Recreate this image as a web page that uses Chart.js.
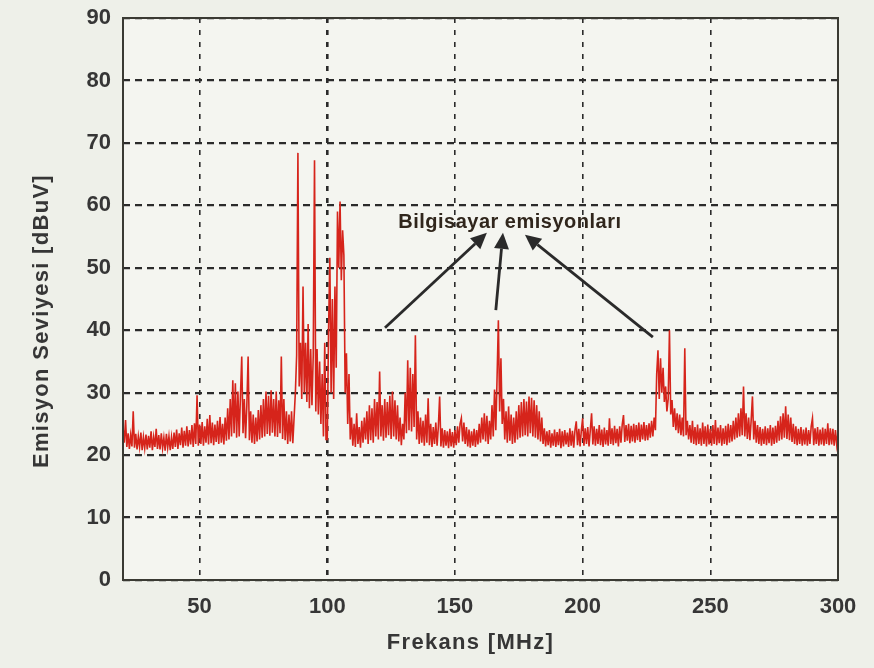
<!DOCTYPE html>
<html>
<head>
<meta charset="utf-8">
<script src="https://cdn.jsdelivr.net/npm/chart.js@4"></script>
<style>
  html, body { margin: 0; padding: 0; background: #eef0e9; }
  #wrap { width: 874px; height: 668px; position: relative; }
</style>
</head>
<body>
<div id="wrap"><canvas id="c" width="874" height="668"></canvas></div>
<script>
// ---- data ----
const startFreq = 20;      // MHz, first sample
const freqStep = 0.5;      // MHz between samples
const levels = [
  // 20 - 29.5
  24.5,22,25.6,21.3,23.5,21,23.2,21.4,27,21.2,23.4,20.9,23,21.3,23.6,20.8,22.9,21.1,23.3,20.9,
  // 30 - 39.5
  23.1,21.2,23.8,20.8,22.9,21.3,24.2,21,23.2,20.9,23.5,21.1,22.8,20.7,23.4,21.2,23,20.8,22.9,21,
  // 40 - 49.5
  23.6,21.3,24.1,21,23.5,21.6,24.4,21.2,23.9,21.5,24.6,21.4,24,21.7,24.8,21.3,25.1,21.8,29.6,21.5,
  // 50 - 59.5
  24.9,21.8,25.3,21.5,24.6,22,25.8,21.7,26.4,21.9,25.2,21.6,24.9,22.1,25.5,21.8,26.1,22,25,21.7,
  // 60 - 69.5
  26,22.3,27.5,22.5,29,23,32,23.5,31.5,22.8,30.2,23,29.5,35.8,23.5,29,22.7,28,35.8,22.4,
  // 70 - 79.5
  27,22,26.5,21.8,26,22.2,27.2,22.5,28,22.8,29,23,30.2,23.4,29.5,23.1,30.4,23.6,29,23,
  // 80 - 89.5
  30.2,22.9,28.8,23.5,35.8,22.6,29,22.4,27,21.8,26.5,22.2,27,21.9,26,30,36,68.4,31,38,
  // 90 - 99.5
  29,47,30,38,28.5,41,27.5,37,28,36,67.2,27,37,26.5,35,25,33,23,38,22.5,
  // 100 - 109.5
  22.5,40,51.6,30,45,29,47,34,59,50,60.6,48,56,52,30,36.3,25,33,22.5,26,
  // 110 - 119.5
  21.5,25,21.3,26.7,21.8,24.5,21.2,25.5,22,26,22.5,27,21.8,28,22.4,27.5,22,29,23,28.5,
  // 120 - 129.5
  22.5,33.4,23,28,22.3,29,22.8,28.5,23.2,29.5,22.6,30.2,23,28.8,22.5,28,22.2,26,21.6,25,
  // 130 - 139.5
  22.5,30,23.5,35.2,24,34,23.8,33,24.5,39.2,22.5,27,21.8,26,22,25.5,21.5,26.5,22,29.1,
  // 140 - 149.5
  21.6,25,21.3,24.5,21.8,25.2,21.5,24.6,29.4,21.4,24.3,21.2,24,21.5,23.8,21.1,24.2,21.4,23.7,21.2,
  // 150 - 159.5
  24,21.6,24.6,22,25,25.9,22.2,25.2,21.8,24.5,21.4,24.1,21.2,23.8,21.5,24.2,21.3,24,21.7,25,
  // 160 - 169.5
  22,26,22.5,26.7,22.2,26.3,21.8,25.5,22.5,28,23,30.5,24,32.6,41.6,27,35.5,25,29,22.5,
  // 170 - 179.5
  27,22,27.8,22.3,26.5,21.8,26,22,27,22.5,28,22.8,28.5,23,29,23.2,28.6,23,29.4,23.5,
  // 180 - 189.5
  29.2,23,28.8,22.8,28,22.5,27,22.2,26,21.8,24.3,21.4,23.8,21.6,24,21.2,23.5,21.5,24.1,21.3,
  // 190 - 199.5
  23.7,21.6,24.2,21.1,23.8,21.4,24,21.7,23.6,21.3,24.3,21.5,23.9,21.2,24,25.4,21.6,24.2,21.4,24,
  // 200 - 209.5
  25.9,21.5,24.3,21.8,24.5,21.4,24,26.7,21.7,24.6,21.5,24.2,21.8,24.8,21.6,24.1,21.3,24.4,21.7,24,
  // 210 - 219.5
  21.5,25.9,21.8,24.3,21.6,24.7,21.9,24.2,21.4,24.6,22,24.9,26.4,22.1,24.8,22.3,25,21.9,24.7,22.2,
  // 220 - 229.5
  25,22,24.8,22.4,25.2,22.1,24.9,22.5,25.3,22.3,24.8,22.4,25.1,22.8,25.5,23,26,24,33,36.8,
  // 230 - 239.5
  29,35.5,30,34,28.5,31,27,29,40,26.5,28.8,24.5,27.5,24,26.7,23.5,26.5,23.2,26,23,
  // 240 - 249.5
  37.1,23.2,25.5,22.5,24.8,22,25.5,21.8,24.5,21.6,24.9,21.8,24.3,21.5,25.2,21.8,24.6,21.4,24.9,21.7,
  // 250 - 259.5
  24.2,21.5,24.8,21.8,25.6,21.6,24.4,21.9,24.8,21.5,24.3,21.8,24.7,21.6,25,22,24.8,22.2,25.5,22.5,
  // 260 - 269.5
  26,22.8,26.7,23,27.5,23.2,31,23,26.7,22.6,26,22.4,25.6,29.4,22.5,25.5,22,24.8,21.8,24.5,
  // 270 - 279.5
  21.5,24.2,21.8,24.6,21.6,24.3,21.9,24.8,21.5,24.4,21.8,24.7,22,25.5,22.3,26.2,22.5,26.7,22.8,27.8,
  // 280 - 289.5
  22.6,26.5,22.4,26,22.1,25,21.8,24.6,21.6,24.2,21.8,24.5,21.5,24.1,21.7,24.4,21.5,24,21.8,24.6,
  // 290 - 300
  25.9,21.6,24.3,21.8,24.5,21.5,24.1,21.7,24.4,21.5,24.2,21.8,25.1,21.6,24.3,21.7,24.2,21.5,24,21.7,
  23.5
];

const xTickValues = [50, 100, 150, 200, 250, 300];
const yTickValues = [0, 10, 20, 30, 40, 50, 60, 70, 80, 90];
const xTitle = 'Frekans [MHz]';
const yTitle = 'Emisyon Seviyesi [dBuV]';

const annotationText = 'Bilgisayar emisyonları';
const annotationAt = [171.5, 57.3];             // [MHz, dBuV]
const arrowFromX = [122.6, 166.0, 227.5];
const arrowFromY = [40.4, 43.2, 38.9];
const arrowToX = [162.5, 168.8, 177.4];
const arrowToY = [55.6, 55.6, 55.3];

// ---- build ----
const points = levels.map((v, i) => ({ x: startFreq + i * freqStep, y: v }));
const FONT = '"Liberation Sans", Arial, Helvetica, sans-serif';
const INK = '#363636';

const framePlugin = {
  id: 'frame',
  beforeDraw(chart) {
    const { ctx, chartArea: a } = chart;
    ctx.save();
    ctx.fillStyle = '#f4f5f0';
    ctx.fillRect(a.left, a.top, a.right - a.left, a.bottom - a.top);
    ctx.restore();
  },
  afterDraw(chart) {
    const { ctx, chartArea: a, scales } = chart;
    const xs = scales.x, ys = scales.y;
    ctx.save();
    // frame
    ctx.strokeStyle = '#3a3a33';
    ctx.lineWidth = 2;
    ctx.strokeRect(a.left, a.top, a.right - a.left, a.bottom - a.top);

    // arrows
    ctx.strokeStyle = '#2a2a2a';
    ctx.fillStyle = '#2a2a2a';
    for (let i = 0; i < arrowFromX.length; i++) {
      const x1 = xs.getPixelForValue(arrowFromX[i]);
      const y1 = ys.getPixelForValue(arrowFromY[i]);
      const x2 = xs.getPixelForValue(arrowToX[i]);
      const y2 = ys.getPixelForValue(arrowToY[i]);
      const ang = Math.atan2(y2 - y1, x2 - x1);
      const headLen = 16, headW = 7.5;
      const bx = x2 - headLen * Math.cos(ang), by = y2 - headLen * Math.sin(ang);
      ctx.lineWidth = 2.8;
      ctx.beginPath();
      ctx.moveTo(x1, y1);
      ctx.lineTo(bx, by);
      ctx.stroke();
      ctx.beginPath();
      ctx.moveTo(x2, y2);
      ctx.lineTo(bx + headW * Math.sin(ang), by - headW * Math.cos(ang));
      ctx.lineTo(bx - headW * Math.sin(ang), by + headW * Math.cos(ang));
      ctx.closePath();
      ctx.fill();
    }

    // annotation label
    ctx.fillStyle = '#30261c';
    ctx.font = 'bold 20px ' + FONT;
    ctx.letterSpacing = '0.5px';
    ctx.textAlign = 'center';
    ctx.textBaseline = 'middle';
    ctx.fillText(annotationText, xs.getPixelForValue(annotationAt[0]), ys.getPixelForValue(annotationAt[1]));

    // axis titles
    ctx.fillStyle = INK;
    ctx.font = 'bold 22px ' + FONT;
    ctx.letterSpacing = '1.3px';
    ctx.fillText(xTitle, (a.left + a.right) / 2 - 10, 643);
    ctx.translate(42, (a.top + a.bottom) / 2 + 22);
    ctx.rotate(-Math.PI / 2);
    ctx.fillText(yTitle, 0, 0);
    ctx.restore();
  }
};

new Chart(document.getElementById('c'), {
  type: 'line',
  data: {
    datasets: [{
      data: points,
      borderColor: '#d6241b',
      borderWidth: 1.6,
      pointRadius: 0,
      tension: 0,
      fill: false
    }]
  },
  options: {
    responsive: false,
    animation: false,
    events: [],
    layout: { padding: { top: 18, right: 36, left: 0, bottom: 0 } },
    plugins: { legend: { display: false }, tooltip: { enabled: false } },
    scales: {
      x: {
        type: 'linear',
        min: 20, max: 300,
        afterBuildTicks: s => { s.ticks = xTickValues.map(v => ({ value: v })); },
        afterFit: s => { s.height = 88; s.paddingLeft = 0; s.paddingRight = 0; },
        grid: { color: '#2b2b2b', lineWidth: c => (c.tick && c.tick.value === 100 ? 2.6 : 1.6), drawTicks: false },
        border: { display: false, dash: [5, 7] },
        ticks: { padding: 14, color: INK, font: { family: FONT, size: 22, weight: 'bold' }, maxRotation: 0 }
      },
      y: {
        type: 'linear',
        min: 0, max: 90,
        afterBuildTicks: s => { s.ticks = yTickValues.map(v => ({ value: v })); },
        afterFit: s => { s.width = 123; s.paddingTop = 0; s.paddingBottom = 0; },
        grid: { color: '#2b2b2b', lineWidth: 2.2, drawTicks: false },
        border: { display: false, dash: [7, 5] },
        ticks: { padding: 12, color: INK, font: { family: FONT, size: 22, weight: 'bold' } }
      }
    }
  },
  plugins: [framePlugin]
});
</script>
</body>
</html>
